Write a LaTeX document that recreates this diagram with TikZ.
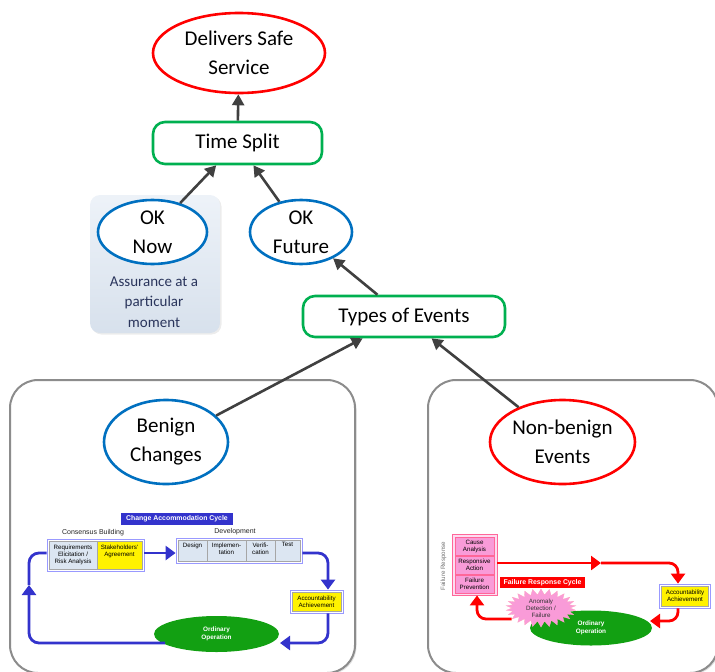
\documentclass[tikz,border=0pt]{standalone}
\usepackage{fontspec}
\setmainfont{Carlito}
\newfontfamily\arialf{Liberation Sans}
\usetikzlibrary{shapes.geometric,shapes.symbols,arrows.meta,shadows}
\definecolor{conncol}{HTML}{404040}
\definecolor{goalred}{HTML}{FF0000}
\definecolor{goalblue}{HTML}{0070C0}
\definecolor{goalgreen}{HTML}{00B050}
\definecolor{loopblue}{HTML}{3333CC}
\definecolor{cellblue}{HTML}{DCE6F2}
\definecolor{outerblue}{HTML}{9999FF}
\definecolor{opgreen}{HTML}{12A012}
\definecolor{pinkcell}{HTML}{F99BD8}
\definecolor{pinkedge}{HTML}{FF6699}
\definecolor{navytext}{HTML}{2A355C}
\tikzset{
  bigfont/.style={font=\fontsize{21}{29}\selectfont},
  goalred/.style={ellipse, draw=goalred, line width=2.6pt, fill=white, inner sep=0pt, align=center, bigfont},
  goalblue/.style={ellipse, draw=goalblue, line width=2.6pt, fill=white, inner sep=0pt, align=center, bigfont},
  strat/.style={rectangle, rounded corners=12pt, draw=goalgreen, line width=2.6pt, fill=white, inner sep=0pt, bigfont},
  conn/.style={draw=conncol, line width=2.6pt, -{Triangle[length=11pt,width=12pt]}},
  bigbox/.style={rectangle, rounded corners=28pt, draw=gray!90, line width=2pt, fill=white, inner sep=0pt,
     drop shadow={opacity=0.25, shadow xshift=1.5pt, shadow yshift=-1.5pt}},
  tiny/.style={font=\arialf\fontsize{6.2}{7}\selectfont, align=center, inner sep=0pt},
  grouplab/.style={font=\arialf\fontsize{7}{8}\selectfont, inner sep=0pt, text=black!85},
  cellb/.style={rectangle, draw=gray!70, line width=0.5pt, fill=cellblue, inner sep=0pt},
  celly/.style={rectangle, draw=gray!70, line width=0.5pt, fill=yellow, inner sep=0pt},
  cellp/.style={rectangle, draw=pinkedge, line width=0.5pt, fill=pinkcell, inner sep=0pt},
  outerb/.style={rectangle, draw=outerblue, line width=0.8pt, fill=white, inner sep=0pt},
  bloop/.style={draw=loopblue, line width=2.8pt, rounded corners=10pt},
  bloopa/.style={bloop, -{Triangle[length=10pt,width=14pt]}},
  rloop/.style={draw=goalred, line width=2.8pt, rounded corners=9pt},
  rloopa/.style={rloop, -{Triangle[length=10pt,width=14pt]}},
  opell/.style={ellipse, fill=opgreen, inner sep=0pt, text=white, font=\arialf\bfseries\fontsize{6.4}{7.6}\selectfont, align=center},
  tag/.style={rectangle, inner sep=0pt, text=white, font=\arialf\bfseries\fontsize{6.9}{8}\selectfont}
}
\begin{document}
\begin{tikzpicture}[x=1pt,y=-1pt]
\useasboundingbox (0,0) rectangle (715,672);

% big panels
\node[bigbox, minimum width=345pt, minimum height=293pt] (lbox) at (182.5,526.5) {};
\node[bigbox, minimum width=290pt, minimum height=293pt] (rbox) at (573,526.5) {};

% OK Now context box
\node[rectangle, rounded corners=10pt, top color=cellblue!50, bottom color=cellblue!95!gray, draw=none,
      minimum width=130pt, minimum height=138pt, drop shadow={opacity=0.15, shadow xshift=1.5pt, shadow yshift=-1.5pt}] (ctx) at (155,264) {};
\node[align=center, text=navytext, font=\fontsize{15}{20.5}\selectfont, inner sep=0pt] (ctxt) at (154,302) {Assurance at a\\particular\\moment};

% main nodes
\node[goalred, minimum width=172pt, minimum height=80pt] (dss) at (239,53) {Delivers Safe\\Service};
\node[strat, minimum width=169pt, minimum height=42pt] (ts) at (237.5,143) {Time Split};
\node[goalblue, minimum width=109pt, minimum height=64pt] (oknow) at (152.5,232) {OK\\Now};
\node[goalblue, minimum width=102pt, minimum height=64pt] (okfut) at (301,232) {OK\\Future};
\node[strat, minimum width=202pt, minimum height=41pt] (toe) at (404,316.5) {Types of Events};
\node[goalblue, minimum width=124pt, minimum height=84pt] (benign) at (166,442) {Benign\\Changes};
\node[goalred, minimum width=145pt, minimum height=84pt] (nonb) at (562.5,442) {Non-benign\\Events};

% connectors
\draw[conn] (ts) -- (dss);
\draw[conn] (oknow) -- (ts);
\draw[conn] (okfut) -- (ts);
\draw[conn] (toe) -- (okfut);
\draw[conn] (benign) -- (toe);
\draw[conn] (nonb) -- (toe);

% ---------------- Change accommodation cycle ----------------
\node[tag, fill=loopblue, minimum width=112pt, minimum height=12pt] (cactag) at (177,519) {Change Accommodation Cycle};
\node[grouplab] (cblab) at (93,533) {Consensus Building};
\node[grouplab] (devlab) at (235,532) {Development};

\node[outerb, minimum width=97pt, minimum height=32pt] (cons) at (95.5,555) {};
\node[cellb, minimum width=48pt, minimum height=28pt] (req) at (73,555) {};
\node[celly, minimum width=45pt, minimum height=28pt] (stake) at (119.5,555) {};
\node[tiny] (reqt) at (73,555) {Requirements\\Elicitation /\\Risk Analysis};
\node[tiny] (staket) at (119.5,551.5) {Stakeholders'\\Agreement};

\node[outerb, minimum width=126pt, minimum height=25pt] (dev) at (239,550.5) {};
\node[cellb, minimum width=29pt, minimum height=21pt] (design) at (192.5,550.5) {};
\node[cellb, minimum width=39pt, minimum height=21pt] (impl) at (226.5,550.5) {};
\node[cellb, minimum width=29pt, minimum height=21pt] (verif) at (260.5,550.5) {};
\node[cellb, minimum width=25pt, minimum height=21pt] (test) at (287.5,550.5) {};
\node[tiny, anchor=north] (designt) at (192.5,542.5) {Design};
\node[tiny, anchor=north] (implt) at (226.5,542.5) {Implemen-\\tation};
\node[tiny, anchor=north] (veriftt) at (260.5,542.5) {Verifi-\\cation};
\node[tiny, anchor=north] (testt) at (287.5,542.5) {Test};

\node[outerb, minimum width=53pt, minimum height=23pt] (accl) at (316.5,601.5) {};
\node[celly, minimum width=49pt, minimum height=19pt] (accli) at (316.5,601.5) {};
\node[tiny] (acclt) at (316.5,601.5) {Accountability\\Achievement};

\node[opell, minimum width=125pt, minimum height=36pt] (opl) at (216.5,634) {Ordinary\\Operation};

\coordinate (lrt) at (328,553);
\coordinate (lrb) at (328,643);
\coordinate (lst) at (165,643);
\coordinate (llb) at (29,643);
\coordinate (llt) at (29,553);
\coordinate (lup) at (29,585);
\draw[bloopa] (cons.east |- 0,553) -- (dev.west |- 0,553);
\draw[bloopa] (dev.east |- 0,553) -- (lrt) -- (accl.north -| lrt);
\draw[bloopa] (accl.south -| lrt) -- (lrb) -- (280,643);
\draw[bloopa] (lst) -- (llb) -- (lup);
\draw[bloop] (lup) -- (llt) -- (cons.west |- 0,553);

% ---------------- Failure response cycle ----------------
\node[rectangle, draw=pinkedge, line width=0.8pt, fill=pinkcell!35, minimum width=45pt, minimum height=61pt, inner sep=0pt] (fr) at (474.5,564.5) {};
\node[cellp, minimum width=39pt, minimum height=18pt] (cause) at (474.5,546) {};
\node[cellp, minimum width=39pt, minimum height=18pt] (resp) at (474.5,565) {};
\node[cellp, minimum width=39pt, minimum height=18pt] (prev) at (474.5,584) {};
\node[tiny] (causet) at (474.5,546) {Cause\\Analysis};
\node[tiny] (respt) at (474.5,565) {Responsive\\Action};
\node[tiny] (prevt) at (474.5,584) {Failure\\Prevention};
\node[tiny, rotate=90, text=gray!90!black] (frlab) at (443.5,566) {Failure Response};

\node[tag, fill=goalred, minimum width=85pt, minimum height=11pt] (frctag) at (542.5,582.5) {Failure Response Cycle};

\node[outerb, minimum width=51pt, minimum height=24pt] (accr) at (685,596) {};
\node[celly, minimum width=47pt, minimum height=20pt] (accri) at (685,596) {};
\node[tiny] (accrt) at (685,596) {Accountability\\Achievement};

\node[opell, minimum width=122pt, minimum height=35pt] (opr) at (591,628) {Ordinary\\Operation};
\node[starburst, starburst points=26, starburst point height=6pt, random starburst=0, fill=pinkcell, draw=pinkedge!60,
      line width=0.3pt, minimum width=70pt, minimum height=37pt, inner sep=0pt, tiny, text=black!80] (anom) at (541,608) {Anomaly\\Detection /\\Failure};

\coordinate (rmid) at (601,563);
\coordinate (rrt) at (678,563);
\coordinate (rrb) at (678,621);
\coordinate (rlb) at (477,619);
\draw[rloopa] (fr.east |- 0,563) -- (rmid);
\draw[rloopa] (rmid) -- (rrt) -- (accr.north -| rrt);
\draw[rloopa] (accr.south -| rrt) -- (rrb) -- (650,621);
\draw[rloopa] (anom.west |- 0,619) -- (rlb) -- (fr.south -| rlb);
\end{tikzpicture}
\end{document}
